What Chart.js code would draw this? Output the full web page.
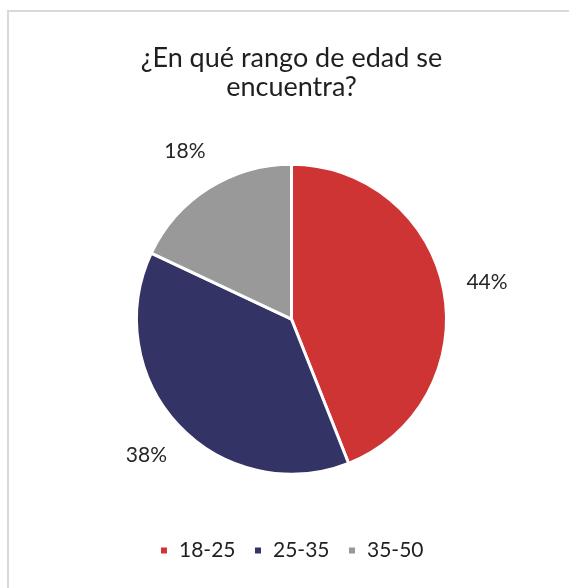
<!DOCTYPE html>
<html>
<head>
<meta charset="utf-8">
<script src="https://cdn.jsdelivr.net/npm/chart.js@4.4.0/dist/chart.umd.min.js"></script>
<style>
  html, body { margin: 0; padding: 0; background: #fff; }
  #frame {
    position: absolute; left: 7px; top: 10px; width: 600px; height: 600px;
    border: 2px solid #d9d9d9; box-sizing: border-box;
  }
  #wrap { position: absolute; left: 0; top: 0; width: 569px; height: 588px; }
</style>
</head>
<body>
<div id="frame"></div>
<div id="wrap"><canvas id="chart"></canvas></div>
<script>
const titleLines = ['¿En qué rango de edad se', 'encuentra?'];
const categories = ['18-25', '25-35', '35-50'];
const shares = [44, 38, 18];
const sliceColors = ['#cf3434', '#333366', '#999999'];

const FONT = 'Lato, "Open Sans", sans-serif';

// percentage labels outside each slice
const outsideLabels = {
    id: 'outsideLabels',
    afterDatasetsDraw(chart) {
        const ctx = chart.ctx;
        const meta = chart.getDatasetMeta(0);
        ctx.save();
        ctx.font = '21px ' + FONT;
        ctx.fillStyle = '#262626';
        ctx.textAlign = 'center';
        ctx.textBaseline = 'middle';
        meta.data.forEach((arc, i) => {
            const p = arc.getProps(['x', 'y', 'startAngle', 'endAngle', 'outerRadius'], true);
            const mid = (p.startAngle + p.endAngle) / 2;
            const dist = p.outerRadius + 44;
            const x = p.x + Math.cos(mid) * dist;
            const y = p.y + Math.sin(mid) * dist;
            ctx.fillText(shares[i] + '%', x, y);
        });
        ctx.restore();
    }
};

new Chart(document.getElementById('chart'), {
    type: 'pie',
    data: {
        labels: categories,
        datasets: [{
            data: shares,
            backgroundColor: sliceColors,
            borderColor: '#ffffff',
            borderWidth: 3,
            radius: 155
        }]
    },
    options: {
        responsive: true,
        maintainAspectRatio: false,
        animation: false,
        layout: { padding: { left: 14, right: 0, top: 0, bottom: 17 } },
        plugins: {
            title: {
                display: true,
                text: titleLines,
                color: '#1f1f1f',
                font: { family: FONT, size: 27, weight: 'normal', lineHeight: 1.1 },
                padding: { top: 43, bottom: 14 }
            },
            legend: {
                position: 'bottom',
                labels: {
                    color: '#1f1f1f',
                    font: { family: FONT, size: 21 },
                    boxWidth: 9,
                    boxHeight: 9,
                    padding: 18
                }
            },
            tooltip: { enabled: false }
        }
    },
    plugins: [outsideLabels]
});
</script>
</body>
</html>
